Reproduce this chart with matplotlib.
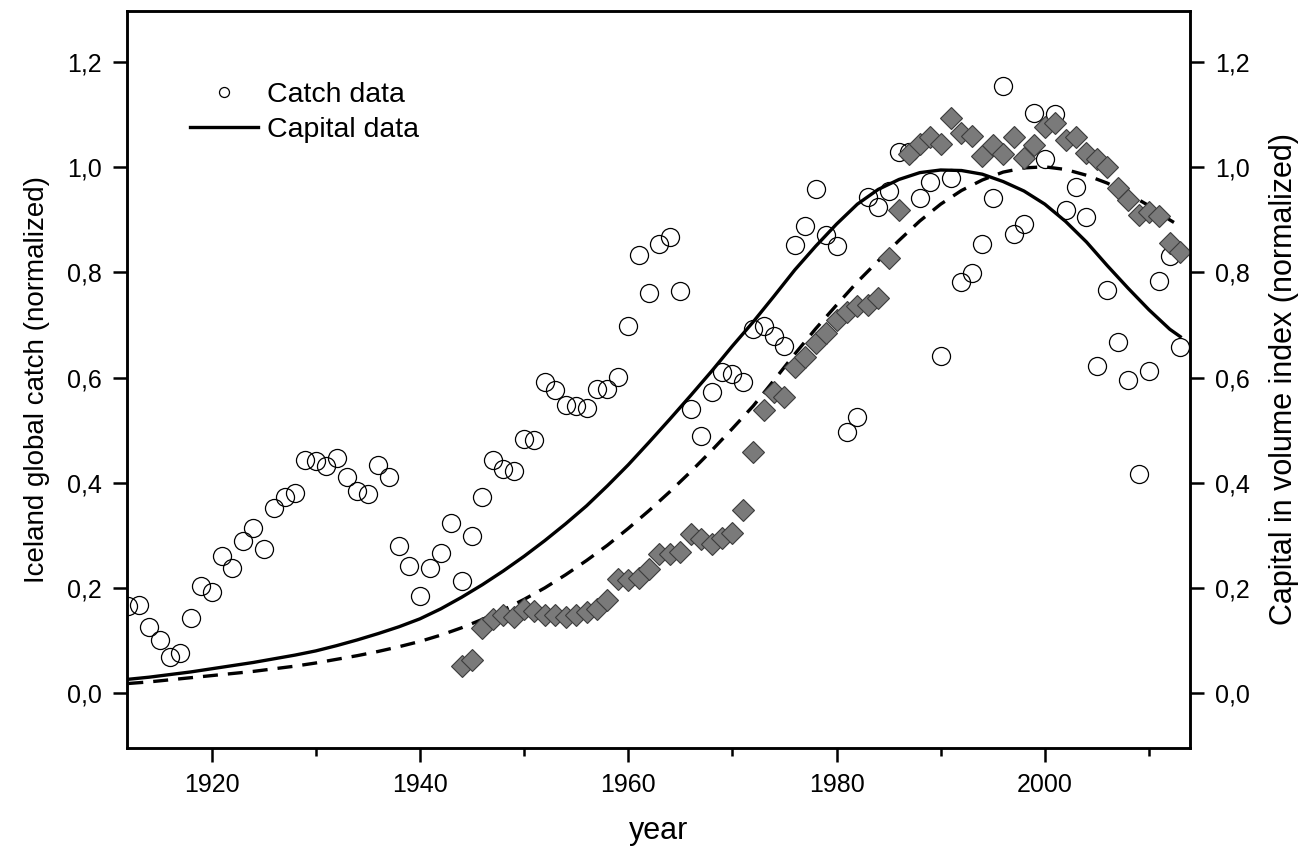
import numpy as np
import matplotlib
matplotlib.use("Agg")
import matplotlib.pyplot as plt
from matplotlib.ticker import MultipleLocator, FuncFormatter
from matplotlib.lines import Line2D

plt.rcParams["font.family"] = ["Liberation Sans", "DejaVu Sans"]

# catch data (open circles), one value per year
catch_years = list(range(1912, 2014))
catch_vals = [
    0.165, 0.168, 0.125, 0.100, 0.068, 0.076, 0.143, 0.203, 0.192, 0.260,  # 1912-1921
    0.238, 0.289, 0.313, 0.273, 0.351, 0.373, 0.380, 0.443, 0.441, 0.431,  # 1922-1931
    0.447, 0.410, 0.385, 0.378, 0.433, 0.411, 0.280, 0.241, 0.184, 0.238,  # 1932-1941
    0.266, 0.324, 0.213, 0.299, 0.372, 0.444, 0.427, 0.422, 0.484, 0.481,  # 1942-1951
    0.591, 0.576, 0.547, 0.546, 0.543, 0.579, 0.579, 0.601, 0.698, 0.834,  # 1952-1961
    0.761, 0.855, 0.867, 0.765, 0.540, 0.488, 0.573, 0.611, 0.606, 0.592,  # 1962-1971
    0.693, 0.698, 0.679, 0.660, 0.852, 0.888, 0.958, 0.871, 0.850, 0.497,  # 1972-1981
    0.525, 0.944, 0.925, 0.955, 1.030, 1.030, 0.941, 0.972, 0.642, 0.980,  # 1982-1991
    0.782, 0.799, 0.855, 0.941, 1.155, 0.873, 0.893, 1.104, 1.015, 1.101,  # 1992-2001
    0.918, 0.963, 0.905, 0.623, 0.766, 0.668, 0.596, 0.416, 0.612, 0.784,  # 2002-2011
    0.831, 0.658,                                                          # 2012-2013
]

# capital data (grey diamonds)
capital_years = list(range(1944, 2014))
capital_vals = [
    0.052, 0.062, 0.124, 0.141, 0.149, 0.144, 0.160, 0.156, 0.149, 0.148,  # 1944-1953
    0.144, 0.149, 0.154, 0.160, 0.176, 0.217, 0.215, 0.219, 0.236, 0.265,  # 1954-1963
    0.264, 0.269, 0.303, 0.293, 0.283, 0.295, 0.304, 0.349, 0.458, 0.539,  # 1964-1973
    0.573, 0.564, 0.620, 0.639, 0.666, 0.684, 0.709, 0.725, 0.736, 0.738,  # 1974-1983
    0.752, 0.827, 0.919, 1.026, 1.044, 1.058, 1.045, 1.093, 1.066, 1.059,  # 1984-1993
    1.021, 1.042, 1.025, 1.057, 1.017, 1.042, 1.077, 1.085, 1.052, 1.058,  # 1994-2003
    1.028, 1.015, 1.001, 0.961, 0.938, 0.909, 0.915, 0.907, 0.856, 0.839,  # 2004-2013
]

# fitted curves, every two years
curve_years = list(range(1912, 2013, 2)) + [2013]
catch_fit = [0.026, 0.030, 0.035, 0.040, 0.046, 0.052, 0.058, 0.065, 0.072, 0.080,  # 1912-1930
             0.090, 0.101, 0.113, 0.126, 0.141, 0.160, 0.182, 0.206, 0.232, 0.260,  # 1932-1950
             0.290, 0.322, 0.356, 0.394, 0.434, 0.477, 0.521, 0.566, 0.612, 0.660,  # 1952-1970
             0.706, 0.755, 0.805, 0.850, 0.892, 0.930, 0.958, 0.977, 0.990, 0.995,  # 1972-1990
             0.994, 0.987, 0.973, 0.955, 0.930, 0.897, 0.858, 0.813, 0.770, 0.729,  # 1992-2010
             0.692, 0.678]                                                          # 2012-2013
capital_fit = [0.018, 0.021, 0.025, 0.029, 0.033, 0.037, 0.041, 0.046, 0.051, 0.057,  # 1912-1930
               0.064, 0.071, 0.079, 0.088, 0.098, 0.110, 0.124, 0.140, 0.158, 0.178,  # 1932-1950
               0.200, 0.225, 0.252, 0.281, 0.313, 0.347, 0.383, 0.421, 0.461, 0.503,  # 1952-1970
               0.546, 0.595, 0.645, 0.693, 0.738, 0.782, 0.822, 0.861, 0.898, 0.930,  # 1972-1990
               0.956, 0.976, 0.991, 0.999, 1.001, 0.996, 0.985, 0.970, 0.950, 0.927,  # 1992-2010
               0.900, 0.888]                                                          # 2012-2013

fig = plt.figure(figsize=(13.1, 8.46), dpi=100)
ax = fig.add_axes([0.0969, 0.1163, 0.8115, 0.871])

ax.plot(catch_years, catch_vals, ls="none", marker="o", ms=13, mfc="none",
        mec="black", mew=0.9, zorder=2)
ax.plot(curve_years, catch_fit, c="black", lw=2.4, zorder=3)
ax.plot(curve_years, capital_fit, c="black", lw=2.4, dashes=(4.5, 3), zorder=3)
ax.plot(capital_years, capital_vals, ls="none", marker="D", ms=11.5, mfc="#7a7a7a",
        mec="#3c3c3c", mew=0.8, zorder=4)

ax.set_xlim(1911.87, 2013.94)
ax.set_ylim(-0.104, 1.298)

comma = FuncFormatter(lambda v, p: f"{v:.1f}".replace(".", ","))
ax.xaxis.set_major_locator(MultipleLocator(20))
ax.xaxis.set_minor_locator(MultipleLocator(10))
ax.yaxis.set_major_locator(MultipleLocator(0.2))
ax.yaxis.set_major_formatter(comma)
ax.tick_params(which="major", direction="out", length=10, width=1.8, labelsize=18, pad=8)
ax.tick_params(which="minor", direction="out", length=6, width=1.8)
ax.tick_params(top=False, right=False)
for s in ax.spines.values():
    s.set_linewidth(1.8)

ax2 = ax.twinx()
ax2.set_ylim(ax.get_ylim())
ax2.yaxis.set_major_locator(MultipleLocator(0.2))
ax2.yaxis.set_major_formatter(comma)
ax2.tick_params(direction="out", length=10, width=1.8, labelsize=18, pad=8)
for s in ax2.spines.values():
    s.set_linewidth(1.8)

ax.set_xlabel("year", fontsize=22, labelpad=14)
ax.set_ylabel("Iceland global catch (normalized)", fontsize=20, labelpad=12)
ax2.set_ylabel("Capital in volume index (normalized)", fontsize=22, labelpad=14)

handles = [Line2D([], [], ls="none", marker="o", ms=12, mfc="none", mec="black", mew=0.9),
           Line2D([], [], c="black", lw=2.4)]
ax.legend(handles, ["Catch data", "Capital data"], loc="upper left",
          bbox_to_anchor=(0.059, 0.903), frameon=False, fontsize=20.5,
          handlelength=2.4, handletextpad=0.3, labelspacing=0.3,
          borderpad=0, borderaxespad=0, markerscale=0.6)

fig.savefig("out.png", dpi=100)
